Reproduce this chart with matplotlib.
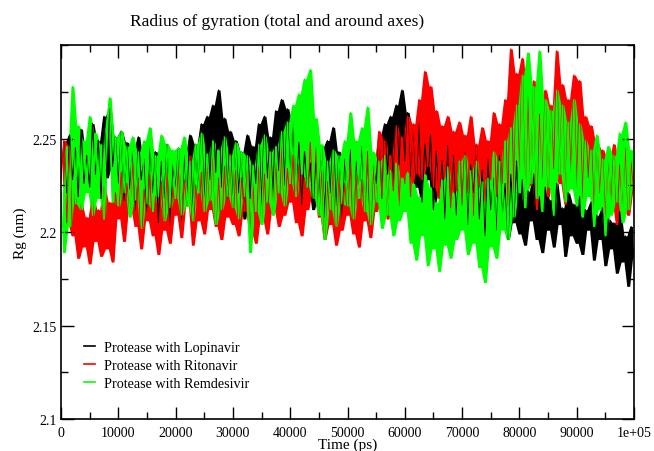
import numpy as np
import matplotlib
matplotlib.use('Agg')
import matplotlib.pyplot as plt
from matplotlib.ticker import MultipleLocator

plt.rcParams['font.family'] = ['Liberation Serif', 'DejaVu Serif']

# temps (ps), un point tous les 500 ps
time = np.arange(0, 100001, 500)

# Rg (nm)
rg_lopinavir = [
    2.232, 2.248, 2.221, 2.252, 2.228, 2.245, 2.219, 2.255, 2.226, 2.241, 2.224, 2.258, 2.231, 2.249, 2.218, 2.262, 2.229, 2.266, 2.235, 2.251,
    2.226, 2.254, 2.217, 2.248, 2.223, 2.244, 2.212, 2.251, 2.228, 2.239, 2.209, 2.246, 2.221, 2.243, 2.205, 2.238, 2.218, 2.247, 2.203, 2.236,
    2.224, 2.245, 2.206, 2.241, 2.219, 2.252, 2.211, 2.247, 2.222, 2.258, 2.215, 2.262, 2.228, 2.268, 2.232, 2.276, 2.224, 2.261, 2.218, 2.254,
    2.213, 2.249, 2.221, 2.243, 2.207, 2.252, 2.218, 2.246, 2.226, 2.258, 2.214, 2.262, 2.229, 2.251, 2.219, 2.265, 2.233, 2.271, 2.225, 2.266,
    2.231, 2.259, 2.222, 2.248, 2.215, 2.243, 2.224, 2.237, 2.212, 2.241, 2.218, 2.245, 2.208, 2.249, 2.221, 2.256, 2.214, 2.243, 2.206, 2.239,
    2.219, 2.244, 2.209, 2.238, 2.222, 2.246, 2.213, 2.241, 2.204, 2.236, 2.226, 2.251, 2.218, 2.258, 2.231, 2.262, 2.225, 2.268, 2.236, 2.276,
    2.238, 2.264, 2.229, 2.255, 2.224, 2.259, 2.216, 2.247, 2.228, 2.252, 2.212, 2.243, 2.221, 2.238, 2.207, 2.246, 2.217, 2.241, 2.209, 2.237,
    2.215, 2.243, 2.204, 2.236, 2.221, 2.247, 2.207, 2.233, 2.198, 2.239, 2.212, 2.229, 2.201, 2.241, 2.209, 2.226, 2.196, 2.231, 2.205, 2.238,
    2.199, 2.228, 2.193, 2.222, 2.206, 2.231, 2.196, 2.219, 2.189, 2.224, 2.201, 2.217, 2.192, 2.226, 2.204, 2.213, 2.187, 2.221, 2.198, 2.215,
    2.194, 2.219, 2.188, 2.212, 2.201, 2.216, 2.185, 2.209, 2.196, 2.213, 2.182, 2.207, 2.191, 2.205, 2.178, 2.211, 2.184, 2.198, 2.171, 2.203,
    2.186,
]

rg_ritonavir = [
    2.228, 2.249, 2.205, 2.246, 2.198, 2.221, 2.186, 2.215, 2.192, 2.208, 2.183, 2.219, 2.195, 2.212, 2.187, 2.224, 2.191, 2.216, 2.184, 2.221,
    2.207, 2.232, 2.195, 2.226, 2.212, 2.238, 2.203, 2.229, 2.191, 2.223, 2.206, 2.231, 2.198, 2.219, 2.188, 2.227, 2.201, 2.233, 2.194, 2.224,
    2.209, 2.236, 2.197, 2.228, 2.214, 2.241, 2.193, 2.225, 2.206, 2.232, 2.199, 2.238, 2.212, 2.244, 2.203, 2.229, 2.196, 2.235, 2.208, 2.242,
    2.204, 2.233, 2.198, 2.229, 2.211, 2.238, 2.201, 2.226, 2.194, 2.235, 2.207, 2.231, 2.199, 2.243, 2.212, 2.237, 2.203, 2.246, 2.209, 2.234,
    2.216, 2.241, 2.205, 2.236, 2.198, 2.229, 2.212, 2.248, 2.221, 2.245, 2.208, 2.233, 2.196, 2.227, 2.204, 2.238, 2.193, 2.231, 2.201, 2.226,
    2.209, 2.237, 2.199, 2.231, 2.192, 2.228, 2.206, 2.243, 2.197, 2.235, 2.211, 2.254, 2.218, 2.249, 2.207, 2.241, 2.222, 2.257, 2.214, 2.251,
    2.226, 2.262, 2.219, 2.258, 2.231, 2.271, 2.228, 2.286, 2.235, 2.278, 2.224, 2.265, 2.218, 2.257, 2.229, 2.262, 2.213, 2.254, 2.222, 2.259,
    2.214, 2.252, 2.221, 2.262, 2.209, 2.247, 2.224, 2.256, 2.216, 2.249, 2.228, 2.264, 2.219, 2.258, 2.226, 2.271, 2.214, 2.298, 2.221, 2.285,
    2.231, 2.293, 2.218, 2.272, 2.225, 2.281, 2.212, 2.263, 2.229, 2.276, 2.219, 2.268, 2.234, 2.297, 2.226, 2.279, 2.215, 2.271, 2.231, 2.284,
    2.224, 2.281, 2.218, 2.262, 2.229, 2.257, 2.212, 2.248, 2.221, 2.244, 2.207, 2.239, 2.216, 2.247, 2.204, 2.236, 2.213, 2.245, 2.209, 2.238,
    2.221,
]

rg_remdesivir = [
    2.221, 2.189, 2.246, 2.203, 2.278, 2.215, 2.257, 2.212, 2.249, 2.221, 2.262, 2.209, 2.253, 2.218, 2.247, 2.207, 2.258, 2.272, 2.216, 2.251,
    2.214, 2.254, 2.221, 2.246, 2.208, 2.251, 2.217, 2.243, 2.202, 2.249, 2.215, 2.256, 2.211, 2.241, 2.219, 2.252, 2.206, 2.247, 2.213, 2.244,
    2.218, 2.245, 2.209, 2.251, 2.214, 2.238, 2.206, 2.247, 2.221, 2.253, 2.211, 2.242, 2.217, 2.249, 2.204, 2.244, 2.212, 2.251, 2.219, 2.241,
    2.213, 2.248, 2.207, 2.243, 2.219, 2.241, 2.189, 2.236, 2.211, 2.247, 2.204, 2.252, 2.216, 2.243, 2.209, 2.246, 2.221, 2.254, 2.214, 2.259,
    2.226, 2.268, 2.219, 2.274, 2.231, 2.282, 2.224, 2.287, 2.218, 2.261, 2.209, 2.247, 2.196, 2.238, 2.212, 2.244, 2.203, 2.241, 2.215, 2.249,
    2.214, 2.264, 2.207, 2.249, 2.218, 2.256, 2.211, 2.267, 2.204, 2.243, 2.216, 2.238, 2.202, 2.241, 2.209, 2.233, 2.198, 2.237, 2.206, 2.229,
    2.211, 2.232, 2.194, 2.226, 2.185, 2.219, 2.198, 2.231, 2.182, 2.224, 2.191, 2.216, 2.179, 2.228, 2.193, 2.235, 2.186, 2.221, 2.196, 2.238,
    2.201, 2.241, 2.188, 2.233, 2.194, 2.238, 2.181, 2.227, 2.173, 2.229, 2.192, 2.243, 2.186, 2.238, 2.201, 2.249, 2.196, 2.256, 2.208, 2.268,
    2.221, 2.284, 2.213, 2.296, 2.226, 2.278, 2.218, 2.297, 2.211, 2.271, 2.224, 2.265, 2.209, 2.276, 2.231, 2.268, 2.216, 2.259, 2.223, 2.271,
    2.214, 2.258, 2.208, 2.249, 2.219, 2.244, 2.203, 2.252, 2.212, 2.239, 2.198, 2.246, 2.209, 2.241, 2.216, 2.253, 2.205, 2.259, 2.212, 2.244,
    2.226,
]

labels = ['Protease with Lopinavir', 'Protease with Ritonavir', 'Protease with Remdesivir']
colors = ['black', 'red', '#00ff00']

fig = plt.figure(figsize=(6.54, 4.52), dpi=100)
ax = fig.add_axes([0.0933, 0.0708, 0.8761, 0.8272])

for rg, lab, c in zip([rg_lopinavir, rg_ritonavir, rg_remdesivir], labels, colors):
    rg = np.asarray(rg)
    # bande remplie entre deux points successifs (trace très dense)
    lo = np.minimum(rg[:-1], rg[1:])
    hi = np.maximum(rg[:-1], rg[1:])
    tm = (time[:-1] + time[1:]) / 2
    ax.fill_between(tm, lo, hi, color=c, lw=0)
    ax.plot(time, rg, color=c, lw=0.8, label=lab)

ax.set_xlim(0, 100000)
ax.set_ylim(2.1, 2.3)
ax.xaxis.set_minor_locator(MultipleLocator(5000))
ax.yaxis.set_minor_locator(MultipleLocator(0.025))
ax.set_xticks(np.arange(0, 100001, 10000))
ax.set_xticklabels([str(v) for v in range(0, 100000, 10000)] + ['1e+05'])
ax.set_yticks([2.1, 2.15, 2.2, 2.25])
ax.set_yticklabels(['2.1', '2.15', '2.2', '2.25'])

ax.tick_params(which='both', direction='in', top=True, right=True, labelsize=10, width=1)
ax.tick_params(which='major', length=9)
ax.tick_params(axis='x', which='major', pad=5)
ax.tick_params(axis='y', which='major', pad=3)
ax.tick_params(which='minor', length=5)
for s in ax.spines.values():
    s.set_linewidth(1.2)

ax.set_xlabel('Time (ps)', fontsize=11, labelpad=-1)
ax.set_ylabel('Rg (nm)', fontsize=11, labelpad=4)
fig.text(277 / 654, 0.951, 'Radius of gyration (total and around axes)',
         fontsize=12.5, ha='center', va='center')

leg = ax.legend(loc='lower left', bbox_to_anchor=(0.022, 0.05), frameon=False,
                fontsize=10.2, handlelength=0.8, handletextpad=0.65, labelspacing=0.38,
                borderpad=0.2)
for line in leg.get_lines():
    line.set_linewidth(1.2)

fig.savefig('out.png', dpi=100)
